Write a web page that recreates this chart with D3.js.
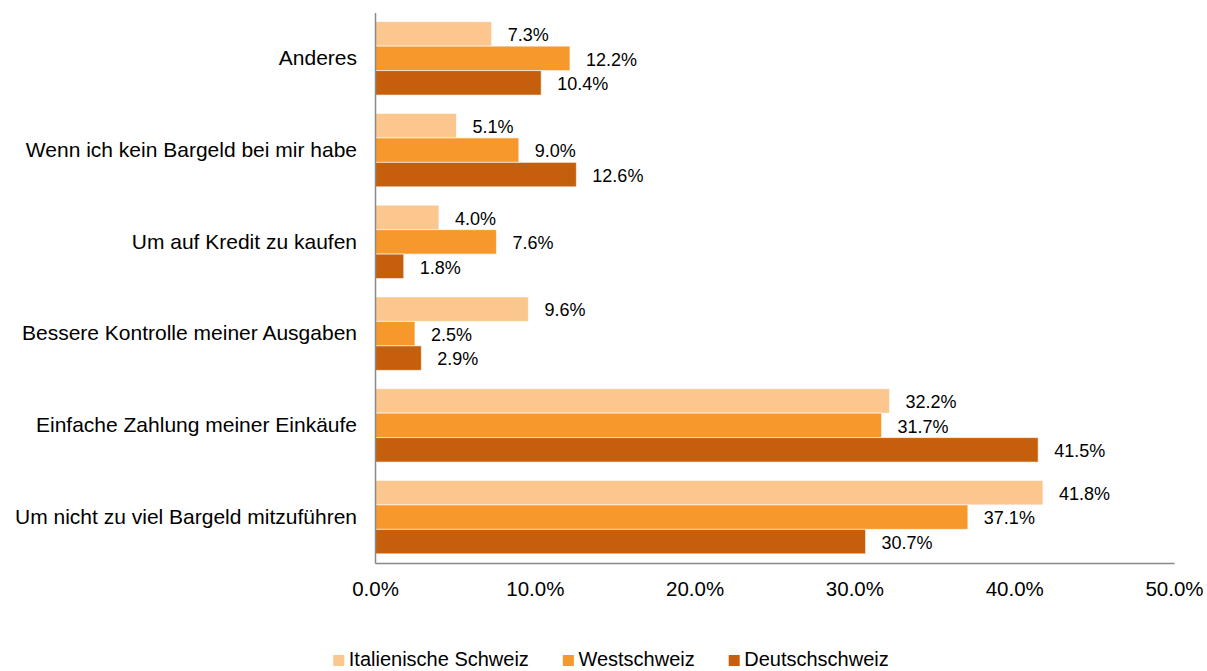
<!DOCTYPE html>
<html>
<head>
<meta charset="utf-8">
<script src="https://cdn.jsdelivr.net/npm/d3@7"></script>
<style>
    body { margin: 0; background: #fff; }
    svg text { font-family: "Liberation Sans", Arial, sans-serif; fill: #000; }
</style>
</head>
<body>
<div id="chart"></div>
<script>
// categories top to bottom
var categories = ["Anderes", "Wenn ich kein Bargeld bei mir habe", "Um auf Kredit zu kaufen",
    "Bessere Kontrolle meiner Ausgaben", "Einfache Zahlung meiner Einkäufe", "Um nicht zu viel Bargeld mitzuführen"];
var seriesNames = ["Italienische Schweiz", "Westschweiz", "Deutschschweiz"];
var seriesColors = ["#fbc78f", "#f7982d", "#c55f0b"];

var italienisch = [7.3, 5.1, 4.0, 9.6, 32.2, 41.8];
var westschweiz = [12.2, 9.0, 7.6, 2.5, 31.7, 37.1];
var deutschschweiz = [10.4, 12.6, 1.8, 2.9, 41.5, 30.7];

var xTicks = [0, 10, 20, 30, 40, 50];

var width = 1207, height = 671;

var svg = d3.select("#chart").append("svg")
    .attr("width", width)
    .attr("height", height);

var x = d3.scaleLinear().domain([0, 50]).range([375, 1174]);
var y = d3.scaleBand().domain(categories).range([12.5, 563])
    .paddingInner(0.2).paddingOuter(0.1);
var ySub = d3.scaleBand().domain(seriesNames).range([0, y.bandwidth()]);
var color = d3.scaleOrdinal().domain(seriesNames).range(seriesColors);

var allSeries = [italienisch, westschweiz, deutschschweiz];
var rows = [];
categories.forEach(function (c, i) {
    seriesNames.forEach(function (s, j) {
        rows.push({ cat: c, series: s, value: allSeries[j][i] });
    });
});

// bars
svg.append("g").selectAll("rect")
    .data(rows)
    .join("rect")
    .attr("x", x(0))
    .attr("y", d => y(d.cat) + ySub(d.series))
    .attr("width", d => x(d.value) - x(0))
    .attr("height", ySub.bandwidth())
    .attr("fill", d => color(d.series))
    .attr("stroke", "#fff")
    .attr("stroke-opacity", 0.6)
    .attr("stroke-width", 1);

// value labels
svg.append("g").selectAll("text")
    .data(rows)
    .join("text")
    .attr("x", d => x(d.value) + 16)
    .attr("y", d => y(d.cat) + ySub(d.series) + ySub.bandwidth() / 2 + 1)
    .attr("dy", "0.35em")
    .attr("font-size", "18px")
    .text(d => d.value.toFixed(1) + "%");

// x axis
var xAxis = d3.axisBottom(x).tickValues(xTicks).tickSize(0).tickPadding(18)
    .tickFormat(d => d.toFixed(1) + "%");
var gx = svg.append("g").attr("transform", "translate(0,563)").call(xAxis);
gx.select(".domain").attr("stroke", "#898989").attr("stroke-width", 1.5);
gx.selectAll(".tick text").attr("font-size", "20.5px").attr("font-family", null);

// y axis
var yAxis = d3.axisLeft(y).tickSize(0).tickPadding(18);
var gy = svg.append("g").attr("transform", "translate(375,0)").call(yAxis);
gy.select(".domain").attr("stroke", "#898989").attr("stroke-width", 1.5);
gy.selectAll(".tick text").attr("font-size", "21px").attr("font-family", null);

// legend
var legend = svg.append("g");
var lx = 0;
seriesNames.forEach(function (s) {
    var item = legend.append("g").attr("transform", "translate(" + lx + ",0)");
    item.append("rect")
        .attr("x", 0).attr("y", -11)
        .attr("width", 11).attr("height", 11)
        .attr("fill", color(s));
    var t = item.append("text")
        .attr("x", 15.5).attr("y", 0)
        .attr("font-size", "20px")
        .text(s);
    lx += 15.5 + t.node().getComputedTextLength() + 34;
});
var legendWidth = lx - 34;
legend.attr("transform", "translate(" + (611 - legendWidth / 2) + ",666)");
</script>
</body>
</html>
